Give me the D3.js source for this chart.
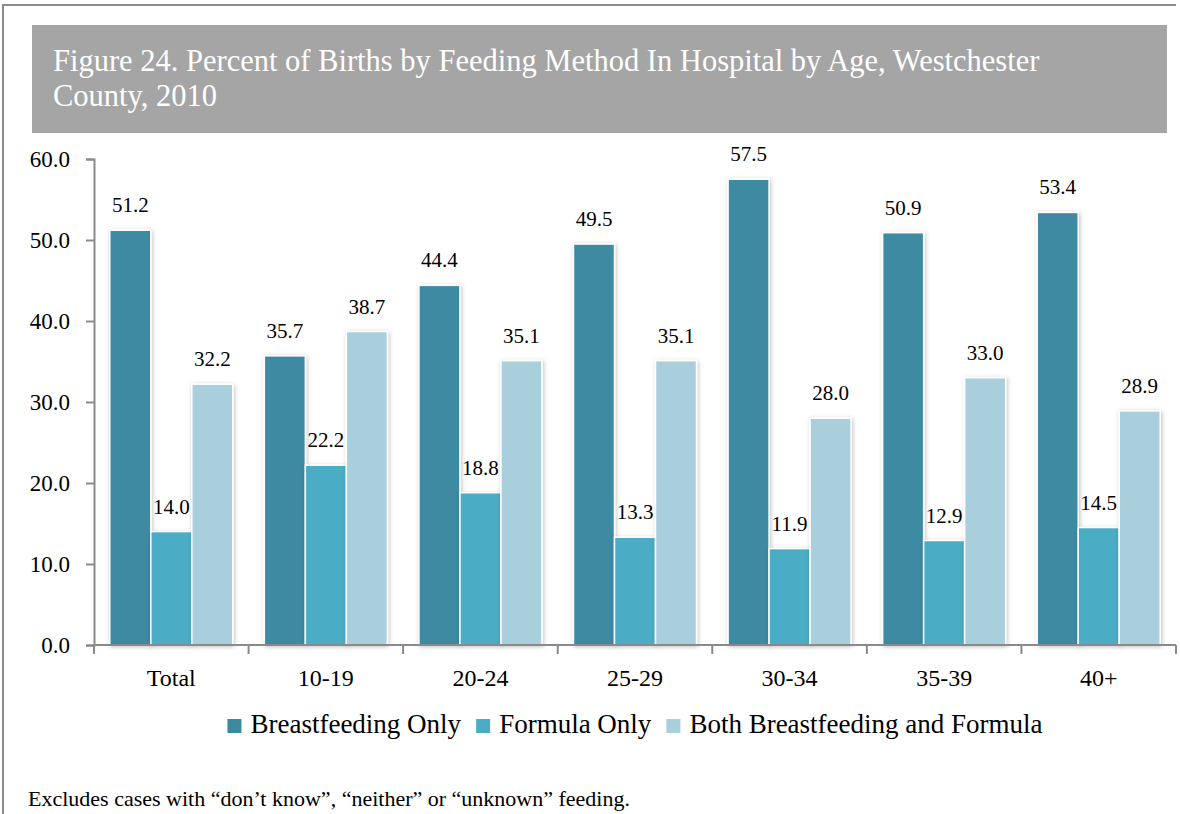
<!DOCTYPE html>
<html>
<head>
<meta charset="utf-8">
<script src="https://cdn.jsdelivr.net/npm/d3@7"></script>
<style>
  body { margin: 0; background: #fff; }
  svg { display: block; font-family: "Liberation Serif", "Times New Roman", serif; }
</style>
</head>
<body>
<svg id="chart" width="1180" height="814"></svg>
<script>
// categories and series
const ageGroups = ["Total", "10-19", "20-24", "25-29", "30-34", "35-39", "40+"];
const seriesNames = ["Breastfeeding Only", "Formula Only", "Both Breastfeeding and Formula"];
const breastfeedingOnly = [51.2, 35.7, 44.4, 49.5, 57.5, 50.9, 53.4];
const formulaOnly = [14.0, 22.2, 18.8, 13.3, 11.9, 12.9, 14.5];
const bothMethods = [32.2, 38.7, 35.1, 35.1, 28.0, 33.0, 28.9];
const yTicks = [0, 10, 20, 30, 40, 50, 60];
const titleLines = ["Figure 24. Percent of Births by Feeding Method In Hospital by Age, Westchester", "County, 2010"];
const footnote = "Excludes cases with \u201cdon\u2019t know\u201d, \u201cneither\u201d or \u201cunknown\u201d feeding.";

const colors = ["#3c8aa2", "#4bacc6", "#a9cfdc"];
const seriesValues = [breastfeedingOnly, formulaOnly, bothMethods];

const svg = d3.select("#chart");

// shadow behind bars
const defs = svg.append("defs");
defs.append("filter").attr("id", "shadow")
    .attr("x", "-20%").attr("y", "-5%").attr("width", "140%").attr("height", "110%")
  .append("feDropShadow")
    .attr("dx", 1).attr("dy", 1).attr("stdDeviation", 2)
    .attr("flood-color", "#000").attr("flood-opacity", 0.25);

// outer frame (top and left edges visible)
svg.append("line").attr("x1", 3).attr("y1", 5).attr("x2", 1176).attr("y2", 5)
    .attr("stroke", "#8a8a8a").attr("stroke-width", 2);
svg.append("line").attr("x1", 3).attr("y1", 4).attr("x2", 3).attr("y2", 814)
    .attr("stroke", "#8a8a8a").attr("stroke-width", 2);

// title box
svg.append("rect").attr("x", 32).attr("y", 25).attr("width", 1135).attr("height", 108)
    .attr("fill", "#a5a5a5");
svg.append("g").selectAll("text")
  .data(titleLines)
  .join("text")
    .attr("x", 53)
    .attr("y", (d, i) => 71 + i * 35)
    .attr("fill", "#fff")
    .attr("font-size", 30.5)
    .text(d => d);

// scales
const x = d3.scaleBand().domain(ageGroups).range([94, 1176]);
const xInner = d3.scaleBand().domain(seriesNames).range([0, 123]);
const y = d3.scaleLinear().domain([0, 60]).range([645, 159]);

// bars
const groups = svg.append("g").selectAll("g")
  .data(ageGroups)
  .join("g")
    .attr("transform", d => `translate(${x(d) + (x.bandwidth() - 123) / 2},0)`);

groups.selectAll("rect")
  .data((d, i) => seriesNames.map((s, j) => ({ series: s, value: seriesValues[j][i], j })))
  .join("rect")
    .attr("x", d => xInner(d.series))
    .attr("y", d => y(d.value))
    .attr("width", xInner.bandwidth())
    .attr("height", d => y(0) - y(d.value))
    .attr("fill", d => colors[d.j])
    .attr("stroke", "#fff")
    .attr("stroke-width", 1.5)
    .attr("filter", "url(#shadow)");

groups.selectAll("text")
  .data((d, i) => seriesNames.map((s, j) => ({ series: s, value: seriesValues[j][i] })))
  .join("text")
    .attr("x", d => xInner(d.series) + xInner.bandwidth() / 2)
    .attr("y", d => y(d.value) - 18)
    .attr("text-anchor", "middle")
    .attr("font-size", 21)
    .attr("fill", "#000")
    .text(d => d3.format(".1f")(d.value));

// y axis
const yAxis = svg.append("g")
    .attr("transform", "translate(94,0)")
    .call(d3.axisLeft(y).tickValues(yTicks).tickFormat(d3.format(".1f")).tickSize(8).tickPadding(16));
yAxis.select(".domain").attr("stroke", "#8a8a8a").attr("stroke-width", 2);
yAxis.selectAll(".tick line").attr("stroke", "#8a8a8a").attr("stroke-width", 2);
yAxis.selectAll(".tick text").attr("font-size", 23).attr("fill", "#000")
    .attr("font-family", "Liberation Serif, serif");

// x axis
const xAxis = svg.append("g")
    .attr("transform", "translate(0,645)")
    .call(d3.axisBottom(x).tickSize(0).tickPadding(0));
xAxis.select(".domain").attr("stroke", "#8a8a8a").attr("stroke-width", 2)
    .attr("d", "M94,0H1176");
xAxis.selectAll(".tick text").attr("font-size", 24).attr("fill", "#000")
    .attr("font-family", "Liberation Serif, serif")
    .attr("dy", null).attr("y", 41);
const boundaries = ageGroups.map(d => x(d)).concat([x.range()[1]]);
xAxis.append("g").selectAll("line")
  .data(boundaries)
  .join("line")
    .attr("x1", d => d).attr("x2", d => d)
    .attr("y1", 0).attr("y2", 9)
    .attr("stroke", "#8a8a8a").attr("stroke-width", 2);

// legend, centred under the plot
const legend = svg.append("g").attr("transform", "translate(0,733)");
const items = legend.selectAll("g")
  .data(seriesNames)
  .join("g");
items.append("rect")
    .attr("y", -14).attr("width", 14).attr("height", 14)
    .attr("fill", (d, i) => colors[i]);
items.append("text")
    .attr("x", 23)
    .attr("font-size", 27)
    .attr("fill", "#000")
    .text(d => d);
const widths = [];
items.each(function () { widths.push(this.querySelector("text").getComputedTextLength()); });
const itemW = widths.map(w => 23 + w);
const gap = 15;
const total = d3.sum(itemW) + gap * (itemW.length - 1);
let cursor = (94 + 1176) / 2 - total / 2;
items.attr("transform", (d, i) => {
  const t = `translate(${cursor},0)`;
  cursor += itemW[i] + gap;
  return t;
});

// footnote
svg.append("text")
    .attr("x", 28).attr("y", 806)
    .attr("font-size", 22)
    .attr("fill", "#000")
    .text(footnote);
</script>
</body>
</html>
